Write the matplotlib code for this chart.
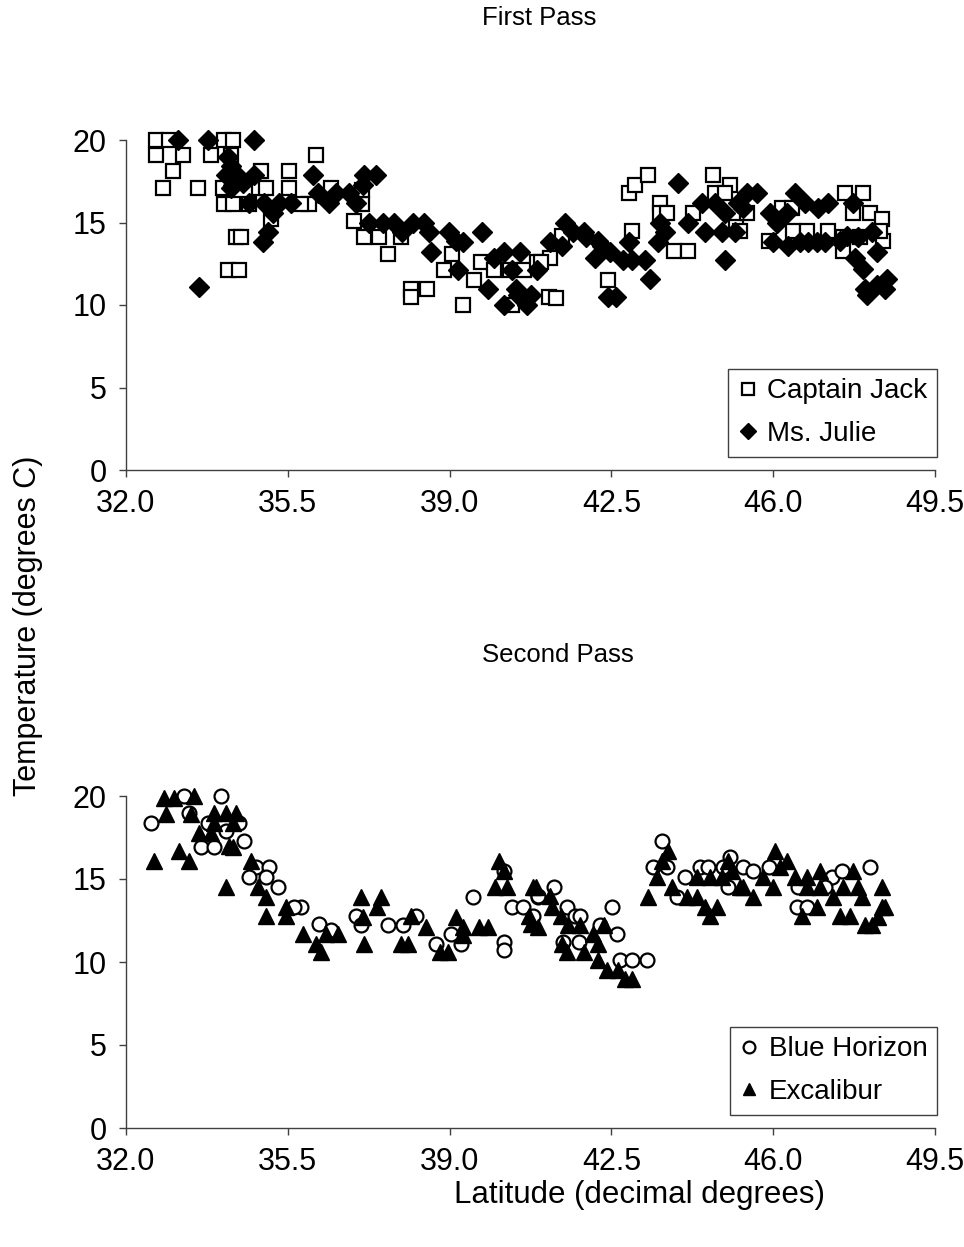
import matplotlib
matplotlib.use("Agg")
import matplotlib.pyplot as plt
import numpy as np

plt.rcParams['font.family'] = ['Liberation Sans', 'DejaVu Sans']

# ---------------- data ----------------
cj_lat = [32.65, 32.93, 34.12, 34.31, 32.65, 33.23, 33.84, 34.27, 36.10, 33.02, 34.92, 35.52,
          32.80, 33.56, 34.10, 34.87, 35.02, 35.52, 36.43, 34.12, 34.31, 34.66, 35.95, 35.78,
          35.13, 34.38, 34.48, 34.20, 34.44,
          36.93, 37.14, 37.47, 37.94, 37.66, 37.10, 37.10, 38.16, 38.16, 38.52, 39.06, 38.87,
          39.28, 39.67, 39.52, 39.95, 40.30, 40.60, 40.90, 40.36,
          41.14, 41.30, 41.18, 40.97, 41.44, 42.43, 42.87, 43.00, 43.30, 42.95, 43.55, 43.55,
          43.70, 43.85, 44.16, 44.27, 44.70, 45.07, 44.75, 44.96, 45.20,
          45.29, 45.44, 46.20, 46.40, 45.90, 46.43, 46.73, 47.19, 47.55, 47.94, 47.73, 48.10,
          48.35, 48.37, 47.51, 47.51, 47.88, 48.30]
cj_temp = [20.0, 20.0, 20.0, 20.0, 19.1, 19.1, 19.1, 19.1, 19.1, 18.1, 18.1, 18.1,
           17.1, 17.1, 17.1, 17.1, 17.1, 17.1, 17.1, 16.1, 16.1, 16.1, 16.1, 16.1,
           15.2, 14.1, 14.1, 12.1, 12.1,
           15.1, 14.1, 14.1, 14.1, 13.1, 16.1, 17.0, 11.0, 10.5, 11.0, 13.1, 12.1,
           10.0, 12.6, 11.5, 12.1, 12.1, 12.1, 12.6, 10.0,
           10.5, 10.4, 12.85, 12.6, 14.2, 11.5, 16.8, 17.3, 17.9, 14.5, 16.2, 15.6,
           15.6, 13.3, 13.3, 15.6, 17.9, 17.3, 16.8, 16.8, 14.7,
           14.5, 15.6, 15.9, 15.9, 13.9, 14.5, 14.5, 14.5, 16.8, 16.8, 15.6, 15.6,
           15.2, 13.9, 13.3, 14.1, 14.1, 14.5]

mj_lat = [33.12, 33.77, 34.76, 33.58, 34.20, 34.27, 34.16, 34.42, 34.31, 34.53, 34.76, 34.27,
          36.04, 36.15, 36.40, 34.66, 34.98, 35.30, 35.56, 35.18, 35.07, 34.96,
          37.14, 37.40, 37.12, 36.54, 36.82, 36.97, 37.25, 37.55, 37.79, 38.20, 38.44, 37.98,
          38.55, 38.98, 39.30, 39.13, 38.59, 39.70, 39.19, 39.82, 39.95, 40.17, 40.53, 40.36,
          40.17, 40.43, 40.47, 40.75, 40.68, 40.90,
          41.50, 41.18, 41.44, 41.68, 41.90, 41.94, 42.22, 42.30, 42.15, 42.48, 42.43, 42.60,
          42.76, 42.95, 42.87, 43.23, 43.34, 43.55, 43.66, 43.50, 43.95, 44.16, 44.53, 44.47,
          44.75, 44.96, 44.96, 44.90, 45.18, 45.24,
          45.44, 45.66, 45.35, 45.93, 46.47, 46.69, 46.97, 47.19, 46.08, 46.30, 46.00, 46.32,
          46.58, 46.76, 46.95, 47.12, 47.73, 47.60, 47.83, 48.14, 48.25, 47.77, 47.94, 47.98,
          48.03, 48.25, 48.46, 48.42, 47.45]
mj_temp = [20.0, 20.0, 20.0, 11.1, 19.0, 18.4, 17.9, 17.8, 17.3, 17.4, 17.9, 17.1,
           17.9, 16.8, 16.2, 16.2, 16.2, 16.2, 16.2, 15.6, 14.4, 13.8,
           17.9, 17.9, 17.3, 16.8, 16.8, 16.2, 15.0, 15.0, 15.0, 15.0, 15.0, 14.4,
           14.4, 14.4, 13.8, 13.9, 13.2, 14.4, 12.1, 11.0, 12.85, 13.2, 13.2, 12.1,
           10.0, 11.0, 10.6, 10.6, 10.0, 12.1,
           15.0, 13.8, 13.6, 14.4, 14.4, 14.1, 13.9, 13.6, 12.85, 13.2, 10.5, 10.5,
           12.7, 12.7, 13.8, 12.7, 11.6, 15.0, 14.4, 13.8, 17.4, 15.0, 14.4, 16.2,
           16.2, 15.6, 12.7, 14.4, 14.4, 16.2,
           16.8, 16.8, 15.9, 15.6, 16.8, 16.2, 15.9, 16.2, 15.0, 15.6, 13.8, 13.6,
           13.8, 13.8, 13.8, 13.8, 16.2, 14.2, 14.1, 14.4, 13.2, 12.85, 12.2, 11.0,
           10.6, 11.2, 11.6, 11.0, 13.9]

bh_lat = [32.54, 33.25, 34.05, 33.36, 33.62, 33.90, 33.77, 34.16, 34.55, 34.81, 35.10, 34.66,
          35.02, 35.28, 35.78, 35.63, 36.17, 34.44,
          36.43, 36.97, 37.08, 37.66, 38.00, 38.27, 38.70, 39.02, 39.24, 39.50, 40.17, 40.17,
          40.17, 40.36, 40.58, 40.80, 40.92,
          41.25, 40.92, 41.55, 41.72, 41.83, 41.46, 41.79, 42.26, 42.52, 42.63, 42.69, 42.95,
          43.28, 43.60, 43.41, 43.71, 44.10, 44.42, 44.60, 44.92, 45.07, 45.03, 43.92,
          45.35, 45.57, 45.90, 46.52, 46.73, 47.27, 47.49, 48.10, 47.12, 46.54]
bh_temp = [18.4, 20.0, 20.0, 19.0, 16.9, 16.9, 18.4, 17.9, 17.3, 15.7, 15.7, 15.1,
           15.1, 14.5, 13.3, 13.3, 12.3, 18.4,
           11.9, 12.8, 12.2, 12.2, 12.2, 12.8, 11.1, 11.7, 11.1, 13.9, 15.5, 11.2,
           10.7, 13.3, 13.3, 12.8, 13.9,
           14.5, 14.0, 13.3, 12.8, 12.8, 11.2, 11.2, 12.2, 13.3, 11.7, 10.1, 10.1,
           10.1, 17.3, 15.7, 15.7, 15.1, 15.7, 15.7, 15.7, 16.3, 14.5, 13.9,
           15.7, 15.5, 15.7, 13.3, 13.3, 15.1, 15.5, 15.7, 14.5, 14.5]

ex_lat = [32.82, 33.04, 33.47, 32.86, 33.40, 32.60, 33.15, 33.36, 33.58, 33.90, 33.90, 34.16,
          34.38, 34.31, 33.84, 34.31, 34.23, 34.70, 34.16, 34.85, 35.02, 35.02, 35.46, 35.46,
          35.82, 36.10, 36.21, 36.32,
          36.58, 37.08, 37.51, 37.12, 37.44, 37.14, 37.94, 38.11, 38.16, 38.48, 38.80, 38.96,
          39.13, 39.28, 39.63, 39.84, 39.28, 40.06, 40.17, 39.99, 40.25, 40.81, 40.75, 40.71,
          40.86, 40.92, 41.18, 41.22, 41.40, 41.57, 41.44, 41.55, 41.83, 41.90, 42.10, 42.22,
          42.33, 42.20, 42.41, 42.65, 42.95, 42.80, 43.30, 43.49, 43.60, 43.73, 43.82, 44.14,
          44.36, 44.36, 44.53, 44.64, 44.79, 44.64, 44.90, 45.03, 45.11, 45.29,
          45.35, 45.57, 45.79, 46.00, 46.04, 46.30, 46.15, 46.47, 46.73, 47.01, 46.62, 46.95,
          46.73, 47.01, 47.29, 47.51, 47.73, 47.45, 47.66, 47.92, 47.98, 48.14, 48.35, 48.35,
          48.42, 48.27, 47.83]
ex_temp = [19.9, 19.9, 20.0, 18.9, 18.9, 16.1, 16.7, 16.1, 17.8, 19.0, 18.4, 19.0,
           19.0, 18.4, 17.8, 16.9, 17.0, 16.1, 14.5, 14.5, 13.9, 12.8, 13.3, 12.8,
           11.7, 11.1, 10.6, 11.7,
           11.7, 13.9, 13.9, 12.7, 13.3, 11.1, 11.1, 11.1, 12.8, 12.1, 10.6, 10.6,
           12.7, 12.1, 12.1, 12.1, 11.6, 16.1, 15.5, 14.5, 14.5, 14.5, 12.3, 12.8,
           14.5, 12.1, 14.0, 13.3, 12.8, 12.2, 11.1, 10.6, 12.2, 10.6, 11.7, 11.1,
           12.2, 10.1, 9.5, 9.5, 9.0, 9.0, 13.9, 15.1, 16.1, 16.7, 14.5, 13.9,
           15.1, 13.9, 13.3, 12.8, 13.3, 15.1, 15.1, 16.1, 15.5, 14.5,
           14.5, 13.9, 15.1, 14.5, 16.7, 16.1, 15.7, 15.1, 15.1, 15.5, 12.8, 13.3,
           14.5, 14.5, 13.9, 14.5, 15.5, 12.8, 12.8, 13.9, 12.2, 12.2, 14.5, 13.3,
           13.3, 12.7, 14.5]

x_ticks = [32.0, 35.5, 39.0, 42.5, 46.0, 49.5]
y_ticks = [0, 5, 10, 15, 20]

# ---------------- figure ----------------
W, H = 964, 1247
fig = plt.figure(figsize=(W / 100, H / 100), dpi=100)

def px_axes(left, right, top, bottom):
    return fig.add_axes([left / W, 1 - bottom / H, (right - left) / W, (bottom - top) / H])

ax1 = px_axes(126, 935, 140, 470)
ax2 = px_axes(126, 935, 796, 1128)

def style(ax):
    ax.set_xlim(32.0, 49.5)
    ax.set_ylim(0, 20)
    ax.set_xticks(x_ticks)
    ax.set_xticklabels([f"{v:.1f}" for v in x_ticks])
    ax.set_yticks(y_ticks)
    for s in ['top', 'right']:
        ax.spines[s].set_visible(False)
    for s in ['left', 'bottom']:
        ax.spines[s].set_color('#404040')
        ax.spines[s].set_linewidth(1.0)
    ax.tick_params(axis='both', direction='out', length=5, width=1.0, color='#404040',
                   labelsize=22, pad=9)

ms_kw = dict(linestyle='none', clip_on=False)
ax1.plot(cj_lat, cj_temp, marker='s', markersize=10, markerfacecolor='white',
         markeredgecolor='black', markeredgewidth=1.6, label='Captain Jack', **ms_kw)
ax1.plot(mj_lat, mj_temp, marker='D', markersize=10, markerfacecolor='black',
         markeredgecolor='black', markeredgewidth=1.0, label='Ms. Julie', **ms_kw)

ax2.plot(bh_lat, bh_temp, marker='o', markersize=10, markerfacecolor='white',
         markeredgecolor='black', markeredgewidth=1.6, label='Blue Horizon', **ms_kw)
ax2.plot(ex_lat, ex_temp, marker='^', markersize=11, markerfacecolor='black',
         markeredgecolor='black', markeredgewidth=1.0, label='Excalibur', **ms_kw)

for ax in (ax1, ax2):
    style(ax)
    leg = ax.legend(loc='lower right', bbox_to_anchor=(1.0025, 0.04), borderaxespad=0,
                    fontsize=20, markerscale=0.85, handlelength=0.7, handletextpad=0.35,
                    borderpad=0.35, labelspacing=0.6, fancybox=False, framealpha=1,
                    edgecolor='#404040')
    leg.get_frame().set_linewidth(1.0)

fig.text(482 / W, 1 - 18 / H, 'First Pass', ha='left', va='center', fontsize=18.5)
fig.text(482 / W, 1 - 655 / H, 'Second Pass', ha='left', va='center', fontsize=18.5)
fig.text(28 / W, 1 - 626 / H, 'Temperature (degrees C)', ha='center', va='center',
         rotation=90, fontsize=22)
fig.text(640 / W, 1 - 1195 / H, 'Latitude (decimal degrees)', ha='center', va='center',
         fontsize=22.5)

fig.savefig('out.png', dpi=100)
